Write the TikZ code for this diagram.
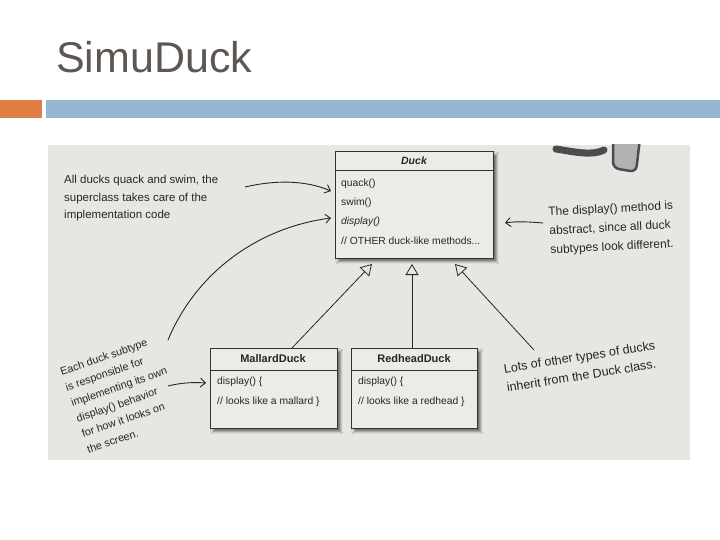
\documentclass[tikz,border=0pt]{standalone}
\usepackage{fontspec}
\setmainfont{Liberation Sans}
\usetikzlibrary{arrows.meta,calc,shadows.blur}
\definecolor{titlecol}{HTML}{5F5652}
\definecolor{accorange}{HTML}{E07F43}
\definecolor{accblue}{HTML}{94B6D2}
\definecolor{photobg}{HTML}{E6E6E3}
\definecolor{boxfill}{HTML}{EBEBE8}
\definecolor{ink}{HTML}{262626}
\begin{document}
\begin{tikzpicture}[x=1pt,y=-1pt,
  umlbox/.style={draw=black!80, line width=0.8pt, fill=boxfill, anchor=north west, inner sep=0pt,
     blur shadow={shadow xshift=3pt, shadow yshift=-3pt, shadow blur radius=2.5pt, shadow opacity=55}},
  boxline/.style={draw=black!80, line width=0.8pt},
  umltext/.style={font=\fontsize{10.3}{12}\selectfont, anchor=west, inner sep=0pt, text=black!85},
  umltitle/.style={font=\bfseries\fontsize{11}{12}\selectfont, inner sep=0pt, text=black!85},
  inh/.style={draw=black!85, line width=0.8pt, -{Triangle[open,length=11pt,width=13pt]}},
  hand/.style={draw=ink, line width=0.9pt, -{Straight Barb[length=5pt,width=9pt]}},
  note/.style={font=\fontsize{11.5}{17.5}\selectfont, align=left, inner sep=0pt, text=ink, anchor=north west}
]
\useasboundingbox (0,0) rectangle (720,540);
\fill[white] (0,0) rectangle (720,540);
% header
\node[anchor=base west, font=\fontsize{43}{50}\selectfont, text=titlecol, inner sep=0pt] (title) at (56,73) {SimuDuck};
\fill[accorange] (0,100) rectangle (42,118);
\fill[accblue] (46,100) rectangle (720,118);
% photo background
\fill[photobg] (48,145) rectangle (690,460);
\begin{scope}
  \clip (48,145) rectangle (690,460);
  \draw[line width=7pt, black!70, line cap=round] (556,149) .. controls (575,152) and (592,156) .. (604,150);
  \draw[fill=black!30, draw=black!70, line width=2.5pt, rounded corners=6pt] (613,138) -- (613,168) -- (636,172) -- (640,138);
\end{scope}
% Duck class
\node[umlbox, minimum width=158pt, minimum height=107pt] (duck) at (335,151) {};
\draw[boxline] ($(duck.north west)+(0,19)$) -- ($(duck.north east)+(0,19)$);
\node[umltitle, font=\bfseries\itshape\fontsize{10.5}{12}\selectfont] (ducktitle) at (414,161) {Duck};
\node[umltext] (quack) at (341,184) {quack()};
\node[umltext] (swim) at (341,203) {swim()};
\node[umltext, font=\itshape\fontsize{10.3}{12}\selectfont] (display) at (341,222) {display()};
\node[umltext] (other) at (341,241) {// OTHER duck-like methods...};
% MallardDuck
\node[umlbox, minimum width=127pt, minimum height=80pt] (mallard) at (210,348) {};
\draw[boxline] ($(mallard.north west)+(0,22)$) -- ($(mallard.north east)+(0,22)$);
\node[umltitle] (mallardtitle) at (273,359) {MallardDuck};
\node[umltext] (mdisp) at (217,382) {display() \{};
\node[umltext] (mlook) at (217,402) {// looks like a mallard \}};
% RedheadDuck
\node[umlbox, minimum width=126pt, minimum height=80pt] (redhead) at (351,348) {};
\draw[boxline] ($(redhead.north west)+(0,22)$) -- ($(redhead.north east)+(0,22)$);
\node[umltitle] (redheadtitle) at (414,359) {RedheadDuck};
\node[umltext] (rdisp) at (358,382) {display() \{};
\node[umltext] (rlook) at (358,402) {// looks like a redhead \}};
% inheritance
\coordinate (tipL) at (372,264);
\coordinate (tipM) at (412,264);
\coordinate (tipR) at (455,264);
\coordinate (other1) at (534,350);
\draw[inh] ($(mallard.north west)+(82,0)$) -- (tipL);
\draw[inh] ($(redhead.north west)+(61,0)$) -- (tipM);
\draw[inh] (other1) -- (tipR);
% notes
\node[note] (n1) at (64,175) {All ducks quack and swim, the\\superclass takes care of the\\implementation code};
\node[note, font=\fontsize{12}{19}\selectfont, rotate=3] (n2) at (548,207) {The display() method is\\abstract, since all duck\\subtypes look different.};
\node[note, font=\fontsize{10.8}{16.5}\selectfont, rotate=19] (n3) at (59,368) {Each duck subtype\\is responsible for\\implementing its own\\display() behavior\\for how it looks on\\the screen.};
\node[note, font=\fontsize{12.5}{19}\selectfont, rotate=9] (n4) at (503,364) {Lots of other types of ducks\\inherit from the Duck class.};
% hand arrows
\coordinate (aS) at (245,187); \coordinate (aE) at (331,191);
\draw[hand] (aS) .. controls (275,180) and (305,180) .. (aE);
\coordinate (bS) at (168,340); \coordinate (bE) at (331,218);
\draw[hand] (bS) .. controls (195,275) and (255,228) .. (bE);
\coordinate (cS) at (168,386); \coordinate (cE) at (206,383);
\draw[hand] (cS) .. controls (180,383) and (192,382) .. (cE);
\coordinate (dS) at (543,223); \coordinate (dE) at (505,223);
\draw[hand] (dS) .. controls (530,222) and (518,221) .. (dE);
\end{tikzpicture}
\end{document}
